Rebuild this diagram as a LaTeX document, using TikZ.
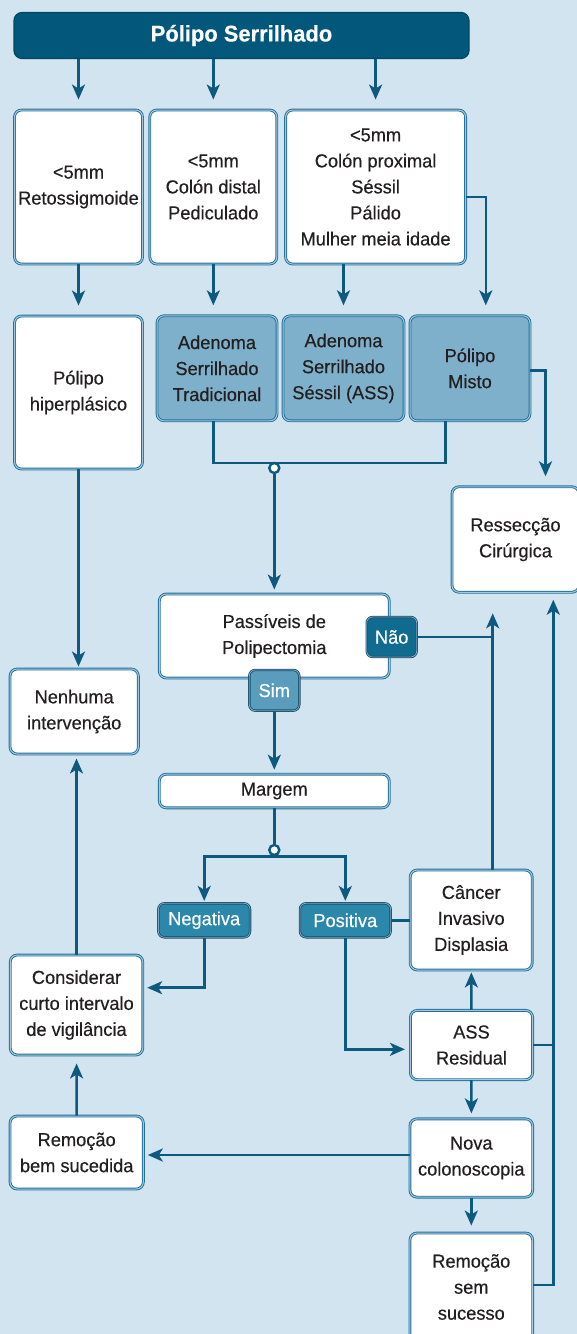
\documentclass[tikz,border=0pt]{standalone}
\usepackage{fontspec}
\setmainfont{Liberation Sans}[FakeStretch=0.97, FakeBold=0.4]
\usetikzlibrary{arrows.meta}
\definecolor{bgblue}{HTML}{D2E4EF}
\definecolor{navy}{HTML}{03577A}
\definecolor{wire}{HTML}{0E5A7E}
\definecolor{rim}{HTML}{24709A}
\definecolor{rimlight}{HTML}{A3C8DD}
\definecolor{midfill}{HTML}{7FB0CB}
\definecolor{naofill}{HTML}{0F6B8F}
\definecolor{simfill}{HTML}{5A9CBC}
\definecolor{tagfill}{HTML}{2B88AB}
\definecolor{ink}{HTML}{231F20}

\tikzset{
	box/.style={draw=rim, double=rimlight, line width=0.45pt, double distance=0.5pt,
		fill=white, rounded corners=3.5pt, align=center, text=ink, inner sep=0pt,
		font=\fontsize{9.4}{13}\selectfont},
	midbox/.style={box, fill=midfill},
	titlebox/.style={draw=navy!80!black, line width=0.6pt, fill=navy, rounded corners=4pt,
		text=white, font=\fontsize{11.3}{13}\bfseries},
	tag/.style={draw=rim!70!black, double=rim!60!white, line width=0.4pt, double distance=0.4pt,
		rounded corners=3pt, text=white, inner sep=0pt, font=\fontsize{9.4}{11}\selectfont},
	junct/.style={circle, draw=wire, fill=white, line width=1.2pt, minimum size=5pt, inner sep=0pt},
	wire/.style={draw=wire, line width=1.3pt},
	arr/.style={wire, -{Stealth[length=7.5pt,width=6.5pt,inset=2pt]}, shorten >=2pt}
}

\begin{document}
\begin{tikzpicture}[x=0.5pt, y=-0.5pt]
	\useasboundingbox (0,0) rectangle (577,1334);
	\fill[bgblue] (0,0) rectangle (577,1334);

	\node[titlebox, minimum width=227.5pt, minimum height=23pt] (title) at (241.5,35.5) {Pólipo Serrilhado};

	% first row
	\node[box, minimum width=64pt, minimum height=77pt] (rA) at (78.5,187) {<5mm\\Retossigmoide};
	\node[box, minimum width=63.5pt, minimum height=77pt] (rB) at (213.3,187) {<5mm\\Colón distal\\Pediculado};
	\node[box, minimum width=90pt, minimum height=77pt] (rC) at (375.6,187) {<5mm\\Colón proximal\\Séssil\\Pálido\\Mulher meia idade};

	% second row
	\node[box, minimum width=64pt, minimum height=76.5pt] (hip) at (78.5,392.5) {Pólipo\\hiperplásico};
	\node[midbox, minimum width=60pt, minimum height=52.5pt] (ats) at (217,368.3) {Adenoma\\Serrilhado\\Tradicional};
	\node[midbox, minimum width=60.5pt, minimum height=52.5pt] (ass) at (343.5,368.3) {Adenoma\\Serrilhado\\Séssil (ASS)};
	\node[midbox, minimum width=60pt, minimum height=52.5pt] (misto) at (470,368.3) {Pólipo\\Misto};

	\node[box, minimum width=63.5pt, minimum height=52.75pt] (ressec) at (515.5,539.5) {Ressecção\\Cirúrgica};
	\node[box, minimum width=115pt, minimum height=42pt] (passiv) at (274.3,636) {Passíveis de\\Polipectomia};
	\node[box, minimum width=64.15pt, minimum height=42.5pt] (nenh) at (74.2,711.5) {Nenhuma\\intervenção};
	\node[box, minimum width=115pt, minimum height=16.85pt] (margem) at (274.3,791) {Margem};

	\node[tag, fill=naofill, minimum width=25pt, minimum height=20pt] (nao) at (391.7,637) {Não};
	\node[tag, fill=simfill, minimum width=25pt, minimum height=20.35pt] (sim) at (274.3,690.3) {Sim};
	\node[tag, fill=tagfill, minimum width=45.85pt, minimum height=17pt] (neg) at (204.2,920.3) {Negativa};
	\node[tag, fill=tagfill, minimum width=45.35pt, minimum height=17pt] (pos) at (345.3,920.3) {Positiva};

	\node[box, minimum width=61pt, minimum height=50pt] (cancer) at (471.2,920) {Câncer\\Invasivo\\Displasia};
	\node[box, minimum width=66.25pt, minimum height=50pt] (consid) at (76.5,1005) {Considerar\\curto intervalo\\de vigilância};
	\node[box, minimum width=61.1pt, minimum height=34.65pt] (assr) at (471.5,1045) {ASS\\Residual};
	\node[box, minimum width=61.35pt, minimum height=39.15pt] (nova) at (471.3,1158) {Nova\\colonoscopia};
	\node[box, minimum width=66.65pt, minimum height=36.5pt] (rembem) at (76.7,1152.5) {Remoção\\bem sucedida};
	\node[box, minimum width=61.35pt, minimum height=54pt] (remsem) at (471.3,1287) {Remoção\\sem\\sucesso};

	% connectors
	\draw[arr, shorten >=5pt] (title.south -| rA.north) -- (rA.north);
	\draw[arr, shorten >=5pt] (title.south -| rB.north) -- (rB.north);
	\draw[arr, shorten >=5pt] (title.south -| rC.north) -- (rC.north);
	\draw[arr, shorten >=5pt] (rA) -- (hip);
	\draw[arr, shorten >=5pt] (rB.south) -- (rB.south |- ats.north);
	\draw[arr, shorten >=5pt] (rC.south -| ass.north) -- (ass.north);
	\draw[arr, shorten >=5pt] ([yshift=-5pt]rC.east) -| ([xshift=7.9pt]misto.north);
	\draw[arr, shorten >=5pt] ([yshift=-1.2pt]misto.east) -| ([xshift=15pt]ressec.north);

	\coordinate (j1) at (274.3,463);
	\draw[wire] (rB.south |- ats.south) |- (j1) -| ([xshift=-12.35pt]misto.south);
	\node[junct] (dot1) at (274.3,468) {};
	\draw[arr] (dot1) -- (passiv);

	\draw[arr] (sim) -- (margem);
	\node[junct] (dot2) at (274.3,850) {};
	\draw[wire] (margem) -- (dot2);
	\draw[arr, shorten >=1pt] (dot2.south) -| (neg.north);
	\draw[arr, shorten >=1pt] (dot2.south) -| (pos.north);

	\coordinate (cup) at ([xshift=10.75pt]cancer.north);
	\coordinate (rup) at ([xshift=18.9pt]ressec.south);
	\draw[wire] (nao.east) -- (nao.east -| cup);
	\draw[arr, shorten >=10.3pt] (cup) -- (cup |- ressec.south);
	\draw[arr, shorten >=3.5pt] ([yshift=1pt]remsem.east) -| (rup);
	\draw[wire] (assr.east) -- (assr.east -| rup);
	\draw[wire] (pos.east) -- (pos.east -| cancer.west);

	\draw[arr] (neg.south) |- ([yshift=8.65pt]consid.east);
	\draw[arr, shorten >=2.5pt] (pos.south) |- ([yshift=-2.15pt]assr.west);
	\draw[arr, shorten >=1pt] (assr) -- (cancer);
	\draw[arr, shorten >=2.5pt] (assr) -- (nova);
	\draw[arr, shorten >=3.5pt] (nova) -- (remsem);
	\draw[arr] ([yshift=1.5pt]nova.west) -- ([yshift=1.5pt]nova.west -| rembem.east);
	\draw[arr, shorten >=4pt] (rembem) -- (consid);
	\draw[arr] (consid.north) -- (consid.north |- nenh.south);
	\draw[arr, shorten >=1pt] (hip.south) -- (hip.south |- nenh.north);
\end{tikzpicture}
\end{document}
